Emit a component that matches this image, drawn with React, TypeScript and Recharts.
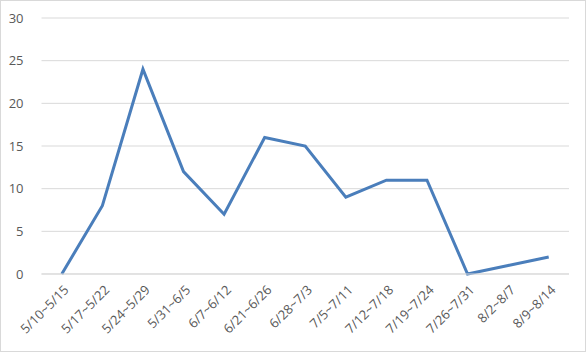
import React from "react";
import { LineChart, Line, XAxis, YAxis, CartesianGrid } from "recharts";

const categories = [
  "5/10~5/15", "5/17~5/22", "5/24~5/29", "5/31~6/5", "6/7~6/12", "6/21~6/26",
  "6/28~7/3", "7/5~7/11", "7/12~7/18", "7/19~7/24", "7/26~7/31", "8/2~8/7", "8/9~8/14",
];
const values = [0, 8, 24, 12, 7, 16, 15, 9, 11, 11, 0, 1, 2];
const yTicks = [0, 5, 10, 15, 20, 25, 30];

const data = categories.map((c, i) => ({ name: c, value: values[i] }));

const FONT = "'Open Sans', 'Noto Sans', sans-serif";

const XTick = (props: any) => {
  const { x, y, payload } = props;
  return (
    <g transform={`translate(${x + 5},${y + 6})`}>
      <text
        x={0}
        y={0}
        dy={4}
        textAnchor="end"
        transform="rotate(-45)"
        fontSize={13}
        fontFamily={FONT}
        fill="#595959"
      >
        {payload.value}
      </text>
    </g>
  );
};

export default function App() {
  return (
    <div
      style={{
        position: "absolute",
        left: 0,
        top: 0,
        width: 586,
        height: 352,
        border: "1px solid #D9D9D9",
        boxSizing: "border-box",
        background: "#fff",
      }}
    >
      <LineChart
        width={584}
        height={350}
        data={data}
        margin={{ top: 17, right: 16, left: 0, bottom: 0 }}
      >
        <CartesianGrid vertical={false} stroke="#D9D9D9" strokeWidth={1} />
        <XAxis
          dataKey="name"
          scale="band"
          interval={0}
          axisLine={{ stroke: "#D9D9D9" }}
          tickLine={false}
          tick={<XTick />}
          height={77}
        />
        <YAxis
          domain={[0, 30]}
          ticks={yTicks}
          width={40.5}
          axisLine={false}
          tickLine={false}
          tickMargin={12}
          tick={{ fontSize: 13, fontFamily: FONT, fill: "#595959" }}
        />
        <Line
          type="linear"
          dataKey="value"
          stroke="#4A7EBB"
          strokeWidth={3}
          dot={false}
          isAnimationActive={false}
        />
      </LineChart>
    </div>
  );
}
